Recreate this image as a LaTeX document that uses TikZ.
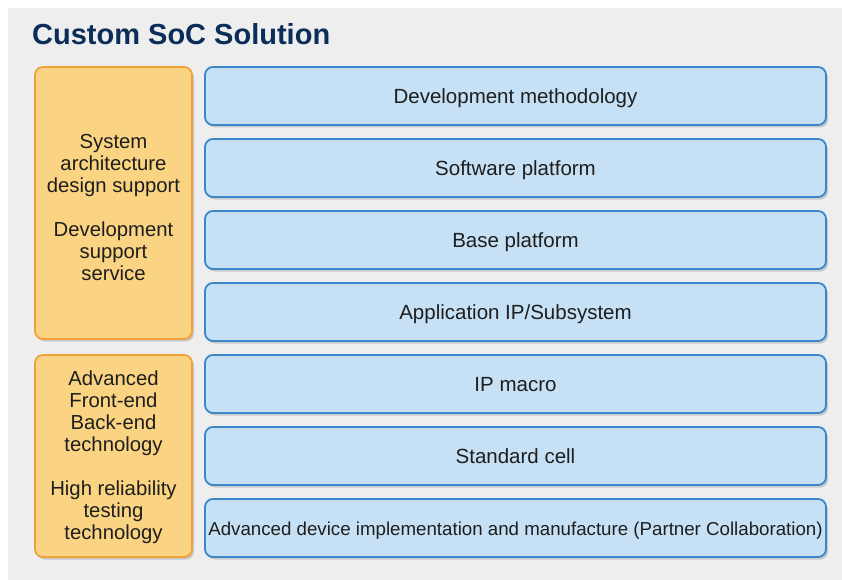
\documentclass[tikz,border=0pt]{standalone}
\usepackage{fontspec}
\setmainfont{Liberation Sans}
\usetikzlibrary{shadows}
\definecolor{bggray}{HTML}{EEEEEE}
\definecolor{orfill}{HTML}{FAD482}
\definecolor{ordraw}{HTML}{F2A03C}
\definecolor{blfill}{HTML}{C6E1F5}
\definecolor{bldraw}{HTML}{3A88CC}
\definecolor{titlecol}{HTML}{0B2D5A}
\definecolor{txt}{HTML}{1E1E1E}
\tikzset{
  boxbase/.style={rectangle, rounded corners=8pt, line width=1.8pt, text=txt, inner sep=0pt,
    drop shadow={shadow xshift=2pt, shadow yshift=-2.5pt, opacity=0.28, fill=black!60}},
  bluebox/.style={boxbase, fill=blfill, draw=bldraw, minimum width=621pt, minimum height=58pt,
    font=\fontsize{20.5}{22}\selectfont, text height=14.7pt, text depth=0pt},
  orbox/.style={boxbase, fill=orfill, draw=ordraw, minimum width=157pt},
  lefttext/.style={anchor=north, inner sep=0pt, align=center, text=txt,
    font=\fontsize{20.3}{22}\selectfont}
}
\begin{document}
\begin{tikzpicture}[x=1pt,y=-1pt]
\useasboundingbox (0,0) rectangle (842,580);
\fill[bggray] (8,8) rectangle (842,580);
\node[anchor=base west, inner sep=0pt, text=titlecol, font=\fontsize{29}{34}\selectfont\bfseries] (title) at (32,45) {Custom SoC Solution};
\node[orbox, minimum height=272pt] (o1) at (113.5,203) {};
\node[orbox, minimum height=202pt] (o2) at (113.5,456) {};
\node[lefttext] (t1) at (113.5,134.5) {System\\architecture\\design support\\[22pt]Development\\support\\service};
\node[lefttext] (t2) at (113.5,371) {Advanced\\Front-end\\Back-end\\technology\\[22pt]High reliability\\testing\\technology};
\node[bluebox] (b1) at (515.5,96) {Development methodology};
\node[bluebox] (b2) at (515.5,168) {Software platform};
\node[bluebox] (b3) at (515.5,240) {Base platform};
\node[bluebox] (b4) at (515.5,312) {Application IP/Subsystem};
\node[bluebox] (b5) at (515.5,384) {IP macro};
\node[bluebox] (b6) at (515.5,456) {Standard cell};
\node[bluebox, font=\fontsize{18.7}{22}\selectfont] (b7) at (515.5,528) {Advanced device implementation and manufacture (Partner Collaboration)};
\end{tikzpicture}
\end{document}
